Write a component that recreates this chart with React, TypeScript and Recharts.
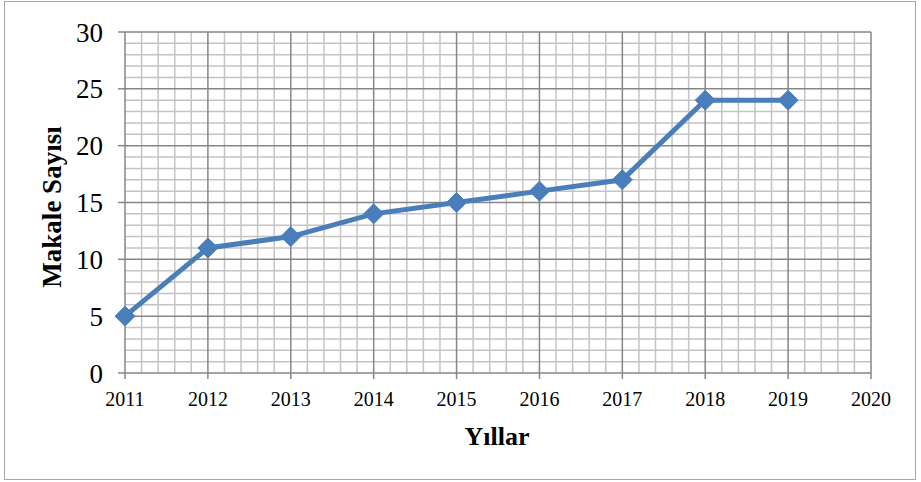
import { LineChart, Line, XAxis, YAxis, ReferenceLine } from 'recharts';

const years = [2011, 2012, 2013, 2014, 2015, 2016, 2017, 2018, 2019];
const articles = [5, 11, 12, 14, 15, 16, 17, 24, 24];
const xTicks = [2011, 2012, 2013, 2014, 2015, 2016, 2017, 2018, 2019, 2020];
const yTicks = [0, 5, 10, 15, 20, 25, 30];

const data = years.map((year, i) => ({ year, count: articles[i] }));

// minor grid every 0.2 year / every 1 article
const minorX = Array.from({ length: 46 }, (_, i) => 2011 + i * 0.2).filter((v, i) => i % 5 !== 0);
const minorY = Array.from({ length: 31 }, (_, i) => i).filter((v) => v % 5 !== 0);

const serif = '"Liberation Serif", "Times New Roman", serif';

const Diamond = (props: any) => {
  const { cx, cy } = props;
  if (cx == null || cy == null) return null;
  const r = 10;
  return (
    <polygon
      points={`${cx},${cy - r} ${cx + r},${cy} ${cx},${cy + r} ${cx - r},${cy}`}
      fill="#4a7ebb"
      stroke="#4a7ebb"
      strokeWidth={1}
    />
  );
};

export default function App() {
  return (
    <div style={{ position: 'absolute', left: 0, top: 0, width: 921, height: 482, background: '#fff' }}>
      <div
        style={{
          position: 'absolute',
          left: 4,
          top: 1,
          width: 912,
          height: 479,
          border: '1px solid #a6a6a6',
          boxSizing: 'border-box',
        }}
      />
      <LineChart
        width={921}
        height={482}
        data={data}
        margin={{ top: 32, right: 50, bottom: 0, left: 0 }}
        style={{ position: 'absolute', left: 0, top: 0 }}
      >
        <XAxis
          dataKey="year"
          type="number"
          domain={[2011, 2020]}
          ticks={xTicks}
          height={109}
          tickSize={6}
          tickMargin={13}
          stroke="#868686"
          strokeWidth={1.5}
          tick={{ fill: '#000', fontSize: 20, fontFamily: serif }}
          label={{
            content: () => (
              <text
                x={497}
                y={445}
                textAnchor="middle"
                fontFamily={serif}
                fontWeight="bold"
                fontSize={26}
                fill="#000"
              >
                Yıllar
              </text>
            ),
          }}
        />
        <YAxis
          type="number"
          domain={[0, 30]}
          ticks={yTicks}
          width={125}
          tickSize={7}
          tickMargin={15}
          stroke="#868686"
          strokeWidth={1.5}
          tick={{ fill: '#000', fontSize: 27, fontFamily: serif }}
          label={{
            content: () => (
              <text
                x={61}
                y={207}
                textAnchor="middle"
                transform="rotate(-90, 61, 207)"
                fontFamily={serif}
                fontWeight="bold"
                fontSize={27}
                fill="#000"
              >
                Makale Sayısı
              </text>
            ),
          }}
        />
        {minorX.map((v) => (
          <ReferenceLine key={`mx${v}`} x={v} stroke="#c4c4c4" strokeWidth={1.5} />
        ))}
        {minorY.map((v) => (
          <ReferenceLine key={`my${v}`} y={v} stroke="#c4c4c4" strokeWidth={1.5} />
        ))}
        {xTicks.slice(1).map((v) => (
          <ReferenceLine key={`Mx${v}`} x={v} stroke="#868686" strokeWidth={1.5} />
        ))}
        {yTicks.slice(1).map((v) => (
          <ReferenceLine key={`My${v}`} y={v} stroke="#868686" strokeWidth={1.5} />
        ))}
        <Line
          type="linear"
          dataKey="count"
          stroke="#4a7ebb"
          strokeWidth={5}
          dot={<Diamond />}
          activeDot={false}
          isAnimationActive={false}
        />
      </LineChart>
    </div>
  );
}
